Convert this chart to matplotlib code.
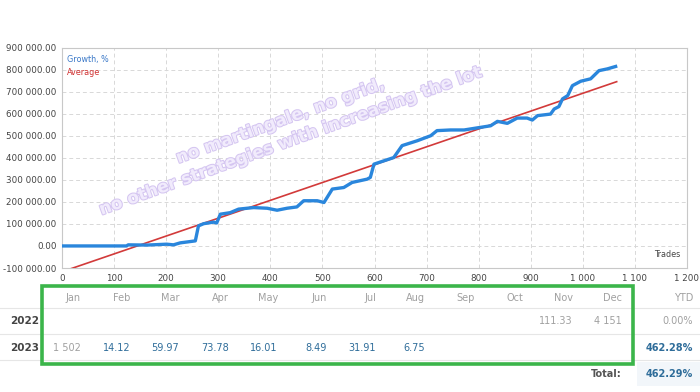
import matplotlib.pyplot as plt
import matplotlib.patheffects as pe
from matplotlib.patches import Rectangle
from matplotlib.ticker import FuncFormatter
from matplotlib.lines import Line2D

# growth curve (trades, growth %)
trades = [0, 124, 127, 163, 201, 214, 227, 240, 256, 262, 272, 291, 297, 304,
          323, 339, 368, 394, 413, 432, 451, 464, 490, 503, 519, 541, 557, 586, 592,
          599, 618, 637, 653, 682, 708, 720, 746, 772, 804, 823, 836, 855, 874, 893,
          903, 913, 938, 945, 954, 961, 971, 980, 996, 1015, 1031, 1047, 1063]
growth = [0, 0, 5000, 4000, 8000, 5000, 14000, 18000, 23000, 91000, 101000,
          108000, 104000, 144000, 151000, 167000, 174000, 171000, 162000, 171000,
          177000, 205000, 205000, 197000, 258000, 265000, 288000, 303000, 311000,
          371000, 386000, 401000, 455000, 477000, 500000, 523000, 526000, 526000,
          538000, 545000, 565000, 556000, 580000, 580000, 571000, 591000, 598000,
          621000, 632000, 667000, 682000, 727000, 747000, 758000, 795000, 803000,
          814000]
avg_trades = [0, 1065]
avg_growth = [-117000, 745000]

months = ["Jan", "Feb", "Mar", "Apr", "May", "Jun", "Jul", "Aug", "Sep", "Oct", "Nov", "Dec"]
years = ["2022", "2023"]
vals_2022 = ["", "", "", "", "", "", "", "", "", "", "111.33", "4 151"]
vals_2023 = ["1 502", "14.12", "59.97", "73.78", "16.01", "8.49", "31.91", "6.75", "", "", "", ""]
ytd = ["0.00%", "462.28%"]
total = "462.29%"

W, H = 700, 392
fig = plt.figure(figsize=(7, 3.92), dpi=100)
fig.patch.set_facecolor("white")


def fy(y):
    return 1 - y / H


def fx(x):
    return x / W


ax = fig.add_axes([fx(62), fy(268), fx(687) - fx(62), fy(47.5) - fy(268)])
ax.plot(avg_trades, avg_growth, color="#d23a3a", lw=1.2, zorder=3)
ax.plot(trades, growth, color="#2a86dc", lw=2.4, zorder=4, solid_joinstyle="round")
ax.set_xlim(0, 1200)
ax.set_ylim(-100000, 900000)
ax.set_xticks(range(0, 1201, 100))
ax.set_yticks(range(-100000, 900001, 100000))


def fmt_y(v, _):
    s = f"{abs(v):,.2f}".replace(",", " ")
    return ("-" if v < 0 else "") + s


ax.yaxis.set_major_formatter(FuncFormatter(fmt_y))
ax.xaxis.set_major_formatter(FuncFormatter(lambda v, _: f"{int(v):,}".replace(",", " ")))
ax.tick_params(length=0, labelsize=6.3, labelcolor="#444444", pad=4)
ax.grid(True, color="#d8d8d8", ls=(0, (4, 3)), lw=0.7)
for s in ax.spines.values():
    s.set_color("#c8c8c8")
    s.set_linewidth(0.8)

ax.text(0.008, 0.965, "Growth, %", transform=ax.transAxes, color="#3a78c8",
        fontsize=5.8, va="top")
ax.text(0.008, 0.905, "Average", transform=ax.transAxes, color="#d03030",
        fontsize=5.8, va="top")
ax.text(0.99, 0.04, "Trades", transform=ax.transAxes, color="#444444",
        fontsize=5.8, ha="right", va="bottom")

# watermark
wm = dict(color="#f1ebfc", fontsize=12.2, fontweight="bold", rotation=20,
          ha="center", va="center", zorder=6,
          path_effects=[pe.withStroke(linewidth=1.5, foreground="#d5c6f1")])
fig.text(fx(280), fy(121), "no martingale, no grid,", **wm)
fig.text(fx(290), fy(141), "no other strategies with increasing the lot", **wm)

# table
col_right = [81 + i * 49.2 for i in range(12)]
ytd_right = 693
row_y = [298, 321, 348, 374]
for yl in [308, 334, 360]:
    fig.add_artist(Line2D([0, 1], [fy(yl), fy(yl)], color="#e6e6e6", lw=0.8))

for m, xr in zip(months, col_right):
    fig.text(fx(xr), fy(row_y[0]), m, ha="right", va="center", fontsize=7, color="#a0a0a0")
fig.text(fx(ytd_right), fy(row_y[0]), "YTD", ha="right", va="center", fontsize=7, color="#a0a0a0")

for yr, yy in zip(years, row_y[1:3]):
    fig.text(fx(10), fy(yy), yr, ha="left", va="center", fontsize=7.5,
             fontweight="bold", color="#444444")

for v, xr in zip(vals_2022, col_right):
    fig.text(fx(xr), fy(row_y[1]), v, ha="right", va="center", fontsize=7, color="#a0a0a0")
for i, (v, xr) in enumerate(zip(vals_2023, col_right)):
    c = "#a0a0a0" if i == 0 else "#2f6d9a"
    fig.text(fx(xr), fy(row_y[2]), v, ha="right", va="center", fontsize=7, color=c)

fig.text(fx(ytd_right), fy(row_y[1]), ytd[0], ha="right", va="center", fontsize=7, color="#a0a0a0")
fig.text(fx(ytd_right), fy(row_y[2]), ytd[1], ha="right", va="center", fontsize=7,
         fontweight="bold", color="#2f6d9a")

fig.add_artist(Rectangle((fx(637), fy(386)), fx(700) - fx(637), fy(362) - fy(386),
                         transform=fig.transFigure, facecolor="#f2f6fa", edgecolor="none"))
fig.text(fx(622), fy(row_y[3]), "Total:", ha="right", va="center", fontsize=7,
         fontweight="bold", color="#555555")
fig.text(fx(ytd_right), fy(row_y[3]), total, ha="right", va="center", fontsize=7,
         fontweight="bold", color="#2f6d9a")

# green frame around months
fig.add_artist(Rectangle((fx(42), fy(364)), fx(633) - fx(42), fy(286) - fy(364),
                         transform=fig.transFigure, facecolor="none",
                         edgecolor="#3bb54a", lw=2.6, zorder=10))

fig.savefig("out.png", dpi=100)
